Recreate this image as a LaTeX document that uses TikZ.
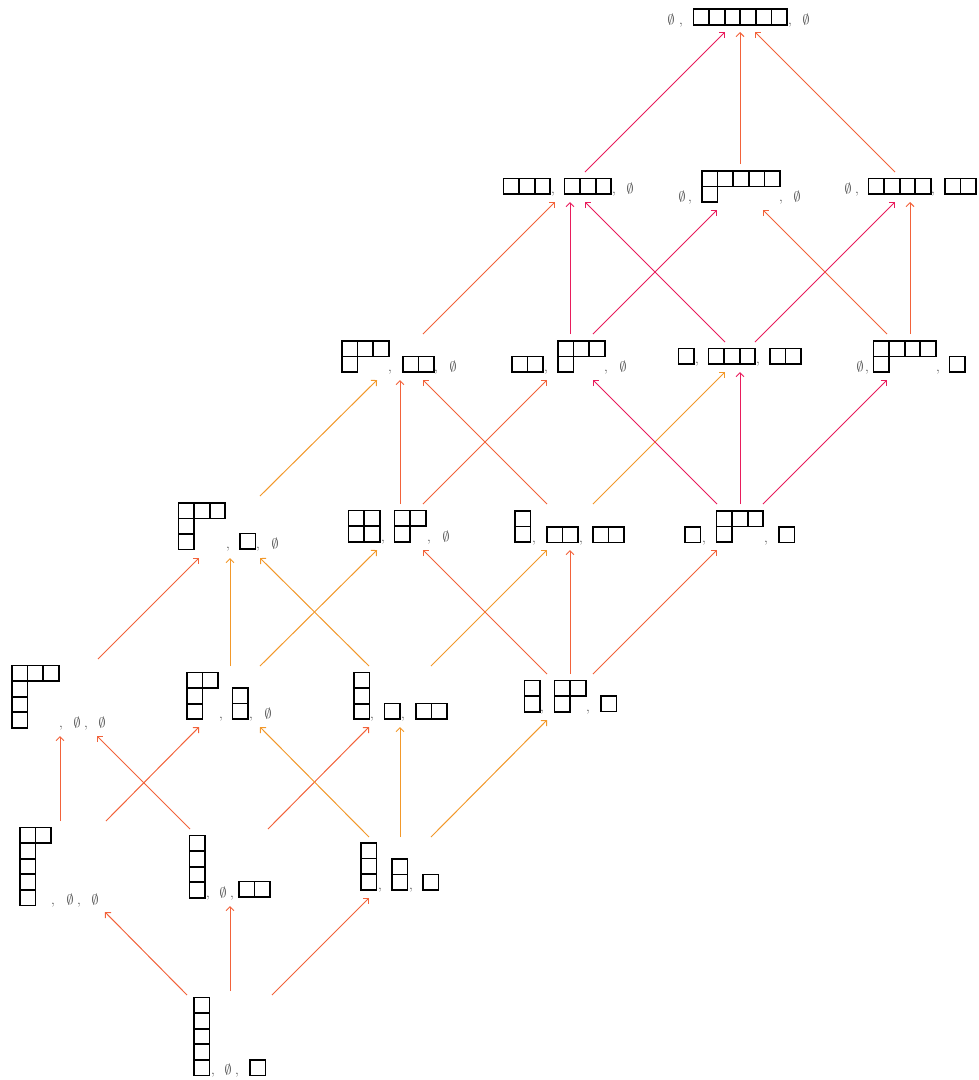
\documentclass[tikz,border=0pt]{standalone}
\usepackage{fix-cm}
\usetikzlibrary{calc,arrows.meta}
\definecolor{crim}{RGB}{232,28,92}
\definecolor{coral}{RGB}{242,98,58}
\definecolor{orng}{RGB}{242,152,42}
\definecolor{txt}{RGB}{70,70,70}
\newcommand{\bsz}{15.6}
\newcommand{\yd}[3]{%
  \foreach \rl [count=\ri from 0] in {#3} {
    \foreach \ci in {1,...,\rl} {
      \draw[ybox] ({#1+(\ci-1)*\bsz},{#2+\ri*\bsz}) rectangle ++(\bsz,\bsz);
    }
  }}
\newcommand{\cma}[2]{\node[lbl] at (#1,#2) {,};}
\newcommand{\ems}[2]{\node[lbl] at (#1,#2) {$\emptyset$};}
\tikzset{
  ybox/.style={draw=black, line width=1.7pt},
  lbl/.style={anchor=base, inner sep=0pt, text=txt, font=\fontsize{14}{16}\selectfont},
  edge/.style={line width=1pt, -{Straight Barb[length=4pt,width=8pt]}},
  ec/.style={edge, draw=crim},
  eo/.style={edge, draw=coral},
  ey/.style={edge, draw=orng},
}
\begin{document}
\begin{tikzpicture}[x=1pt,y=-1pt]
\useasboundingbox (0,0) rectangle (979,1080);
% hubs
\coordinate (G) at (740,17);
\coordinate (F1) at (570,187);
\coordinate (F2) at (740,187);
\coordinate (F3) at (910,187);
\coordinate (E1) at (400,357);
\coordinate (E2) at (570,357);
\coordinate (E3) at (740,357);
\coordinate (E4) at (910,357);
\coordinate (D1) at (230,527);
\coordinate (D2) at (400,527);
\coordinate (D3) at (570,527);
\coordinate (D4) at (740,527);
\coordinate (C1) at (60,697);
\coordinate (C2) at (230,697);
\coordinate (C3) at (400,697);
\coordinate (C4) at (570,697);
\coordinate (B1) at (60,867);
\coordinate (B2) at (230,867);
\coordinate (B3) at (400,867);
\coordinate (A) at (230,1037);

% G
\ems{671}{24}\cma{681}{24}\yd{693.5}{9.3}{6}\cma{790}{24}\ems{806}{24}
% F1
\yd{503.5}{178.5}{3}\cma{553}{193}\yd{564.5}{178.5}{3}\cma{614}{193}\ems{630}{193}
% F2
\ems{682}{201}\cma{690}{201}\yd{702}{171}{5,1}\cma{781}{201}\ems{797}{201}
% F3
\ems{848}{193}\cma{857}{193}\yd{868.5}{178.5}{4}\cma{933}{193}\yd{945}{178.5}{2}
% E1
\yd{342}{341}{3,1}\cma{390}{371}\yd{403}{356.5}{2}\cma{436}{371}\ems{453}{371}
% E2
\yd{512}{356.5}{2}\cma{546}{371}\yd{558}{341}{3,1}\cma{606}{371}\ems{623}{371}
% E3
\yd{678.5}{348.5}{1}\cma{697}{363}\yd{708.5}{348.5}{3}\cma{758}{363}\yd{770}{348.5}{2}
% E4
\ems{860}{371}\cma{867}{371}\yd{873.5}{341}{4,1}\cma{938}{371}\yd{949.5}{356.5}{1}
% D1
\yd{178.5}{502.8}{3,1,1}\cma{228}{548}\yd{240}{533.5}{1}\cma{258}{548}\ems{275}{548}
% D2
\yd{348.5}{510.5}{2,2}\cma{383}{541}\yd{394.5}{510.5}{2,1}\cma{429}{541}\ems{446}{541}
% D3
\yd{515}{511}{1,1}\cma{534}{542}\yd{547}{527}{2}\cma{581}{542}\yd{593}{527}{2}
% D4
\yd{685}{527}{1}\cma{704}{542}\yd{716.5}{511}{3,1}\cma{766}{542}\yd{779}{527}{1}
% C1
\yd{12}{665.5}{3,1,1,1}\cma{61}{727}\ems{77}{727}\cma{86}{727}\ems{102}{727}
% C2
\yd{187}{672.5}{2,1,1}\cma{221}{718}\yd{232.5}{688}{1,1}\cma{251}{718}\ems{268}{718}
% C3
\yd{354}{672.5}{1,1,1}\cma{372}{718}\yd{384.5}{703.5}{1}\cma{403}{718}\yd{416}{703.5}{2}
% C4
\yd{524.5}{680.5}{1,1}\cma{542}{711}\yd{554.5}{680.5}{2,1}\cma{588}{711}\yd{601}{696}{1}
% B1
\yd{20}{827.5}{2,1,1,1,1}\cma{53}{904}\ems{70}{904}\cma{79}{904}\ems{95}{904}
% B2
\yd{189.5}{835.5}{1,1,1,1}\cma{208}{897}\ems{223}{897}\cma{232}{897}\yd{239}{881.5}{2}
% B3
\yd{361}{843}{1,1,1}\cma{380}{889}\yd{392}{859}{1,1}\cma{411}{889}\yd{423}{874.5}{1}
% A
\yd{194}{997.5}{1,1,1,1,1}\cma{213}{1074}\ems{228}{1074}\cma{237}{1074}\yd{250}{1060}{1}

% edges
\draw[eo] ($(A)+(-43,-42)$) -- ($(B1)+(45,45)$);
\draw[eo] ($(A)+(0,-46)$) -- ($(B2)+(0,39)$);
\draw[eo] ($(A)+(42,-42)$) -- ($(B3)+(-31,31)$);
\draw[eo] ($(B1)+(0,-46)$) -- ($(C1)+(0,39)$);
\draw[eo] ($(B1)+(46,-46)$) -- ($(C2)+(-31,30)$);
\draw[eo] ($(B2)+(-40,-38)$) -- ($(C1)+(37,39)$);
\draw[eo] ($(B2)+(38,-38)$) -- ($(C3)+(-31,30)$);
\draw[ey] ($(B3)+(-31,-30)$) -- ($(C2)+(30,30)$);
\draw[ey] ($(B3)+(0,-30)$) -- ($(C3)+(0,30)$);
\draw[ey] ($(B3)+(31,-30)$) -- ($(C4)+(-23,23)$);
\draw[eo] ($(C1)+(38,-38)$) -- ($(D1)+(-31,31)$);
\draw[ey] ($(C2)+(0,-31)$) -- ($(D1)+(0,31)$);
\draw[ey] ($(C2)+(30,-31)$) -- ($(D2)+(-23,23)$);
\draw[ey] ($(C3)+(-31,-31)$) -- ($(D1)+(30,31)$);
\draw[ey] ($(C3)+(31,-31)$) -- ($(D3)+(-23,23)$);
\draw[eo] ($(C4)+(-23,-23)$) -- ($(D2)+(23,23)$);
\draw[eo] ($(C4)+(0,-23)$) -- ($(D3)+(0,23)$);
\draw[eo] ($(C4)+(23,-23)$) -- ($(D4)+(-23,23)$);
\draw[ey] ($(D1)+(30,-31)$) -- ($(E1)+(-23,23)$);
\draw[eo] ($(D2)+(0,-23)$) -- ($(E1)+(0,23)$);
\draw[eo] ($(D2)+(23,-23)$) -- ($(E2)+(-23,23)$);
\draw[eo] ($(D3)+(-23,-23)$) -- ($(E1)+(23,23)$);
\draw[ey] ($(D3)+(23,-23)$) -- ($(E3)+(-15,15)$);
\draw[ec] ($(D4)+(-23,-23)$) -- ($(E2)+(23,23)$);
\draw[ec] ($(D4)+(0,-23)$) -- ($(E3)+(0,15)$);
\draw[ec] ($(D4)+(23,-23)$) -- ($(E4)+(-23,23)$);
\draw[eo] ($(E1)+(23,-23)$) -- ($(F1)+(-15,15)$);
\draw[ec] ($(E2)+(0,-23)$) -- ($(F1)+(0,15)$);
\draw[ec] ($(E2)+(23,-23)$) -- ($(F2)+(-23,23)$);
\draw[ec] ($(E3)+(-15,-15)$) -- ($(F1)+(15,15)$);
\draw[ec] ($(E3)+(15,-15)$) -- ($(F3)+(-15,15)$);
\draw[eo] ($(E4)+(-23,-23)$) -- ($(F2)+(23,23)$);
\draw[eo] ($(E4)+(0,-23)$) -- ($(F3)+(0,15)$);
\draw[ec] ($(F1)+(15,-15)$) -- ($(G)+(-15,15)$);
\draw[eo] ($(F2)+(0,-23)$) -- ($(G)+(0,15)$);
\draw[eo] ($(F3)+(-15,-15)$) -- ($(G)+(15,15)$);
\end{tikzpicture}
\end{document}
